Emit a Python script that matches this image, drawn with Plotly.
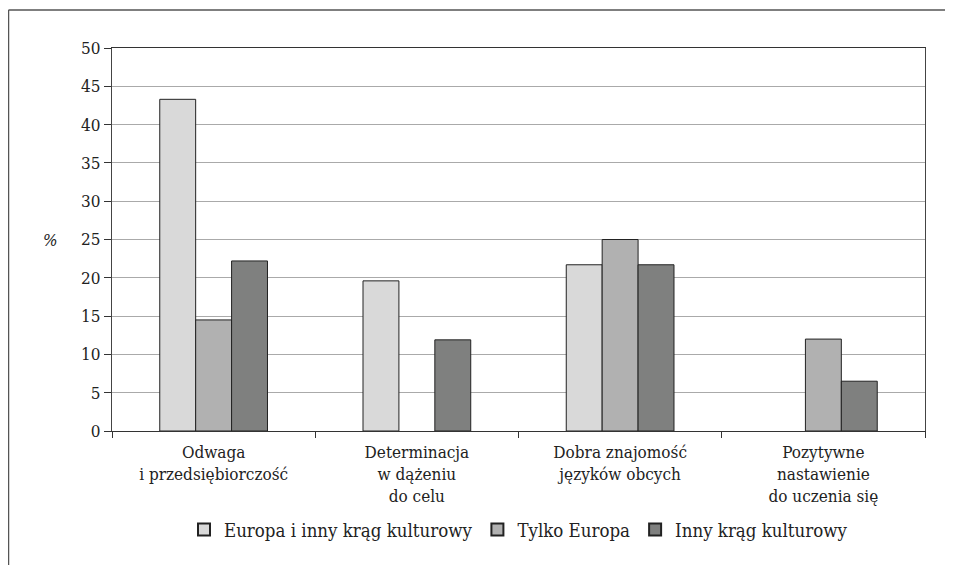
import plotly.graph_objects as go

categories = [
    "Odwaga<br>i przedsiębiorczość",
    "Determinacja<br>w dążeniu<br>do celu",
    "Dobra znajomość<br>języków obcych",
    "Pozytywne<br>nastawienie<br>do uczenia się",
]
series_names = ["Europa i inny krąg kulturowy", "Tylko Europa", "Inny krąg kulturowy"]
europa_i_inny = [43.3, 19.6, 21.7, None]
tylko_europa = [14.5, None, 25.0, 12.0]
inny_krag = [22.2, 11.9, 21.7, 6.5]
y_ticks = [0, 5, 10, 15, 20, 25, 30, 35, 40, 45, 50]

colors = ["#d9d9d9", "#b1b1b1", "#7f807f"]
FONT = "DejaVu Serif Condensed, DejaVu Serif, serif"

fig = go.Figure()
for name, vals, col in zip(series_names, [europa_i_inny, tylko_europa, inny_krag], colors):
    fig.add_trace(go.Bar(
        x=categories, y=vals, name=name,
        marker=dict(color=col, line=dict(color="#222222", width=1)),
    ))

OFF = 8  # page body margin
W, H = 953 - OFF, 565 - OFF
L, R, T, B = 112 - OFF, 28, 48 - OFF, 134
pw, ph = W - L - R, H - T - B

def px(x):
    return (x - OFF - L) / pw

def py(y):
    return (H - B - (y - OFF)) / ph

fig.update_layout(
    width=W, height=H,
    margin=dict(l=L, r=R, t=T, b=B),
    paper_bgcolor="white", plot_bgcolor="white",
    barmode="group", bargap=0.47, bargroupgap=0,
    font=dict(family=FONT, size=17, color="#222222"),
    showlegend=True,
    legend=dict(
        orientation="h", x=0.5, xanchor="center", y=py(530), yanchor="middle",
        font=dict(family=FONT, size=18.5, color="#222222"),
        itemsizing="constant", traceorder="normal", itemwidth=30,
    ),
    xaxis=dict(
        type="category", showline=True, linecolor="#333333", linewidth=1.3,
        mirror=True, ticks="outside", tickson="boundaries", ticklen=6,
        tickcolor="#333333", showgrid=False, ticklabelstandoff=5,
        tickfont=dict(family=FONT, size=17, color="#222222"),
    ),
    yaxis=dict(
        range=[0, 50], tickvals=y_ticks, showline=True, linecolor="#444444",
        linewidth=1.3, mirror=True, ticks="outside", ticklen=7,
        tickcolor="#333333", showgrid=True, gridcolor="#aaaaaa", gridwidth=1,
        zeroline=False,
        tickfont=dict(family=FONT, size=17, color="#222222"),
    ),
    shapes=[
        dict(type="line", xref="paper", yref="paper", x0=px(8.5), x1=px(960),
             y0=py(10), y1=py(10), line=dict(color="#555555", width=1.5)),
        dict(type="line", xref="paper", yref="paper", x0=px(8.5), x1=px(8.5),
             y0=py(10), y1=py(570), line=dict(color="#555555", width=1.5)),
    ],
    annotations=[
        dict(text="<i>%</i>", xref="paper", yref="y", x=px(50), y=25, showarrow=False,
             xanchor="center", yanchor="middle",
             font=dict(family=FONT, size=17, color="#222222")),
    ],
)

fig.write_html("out.html")
